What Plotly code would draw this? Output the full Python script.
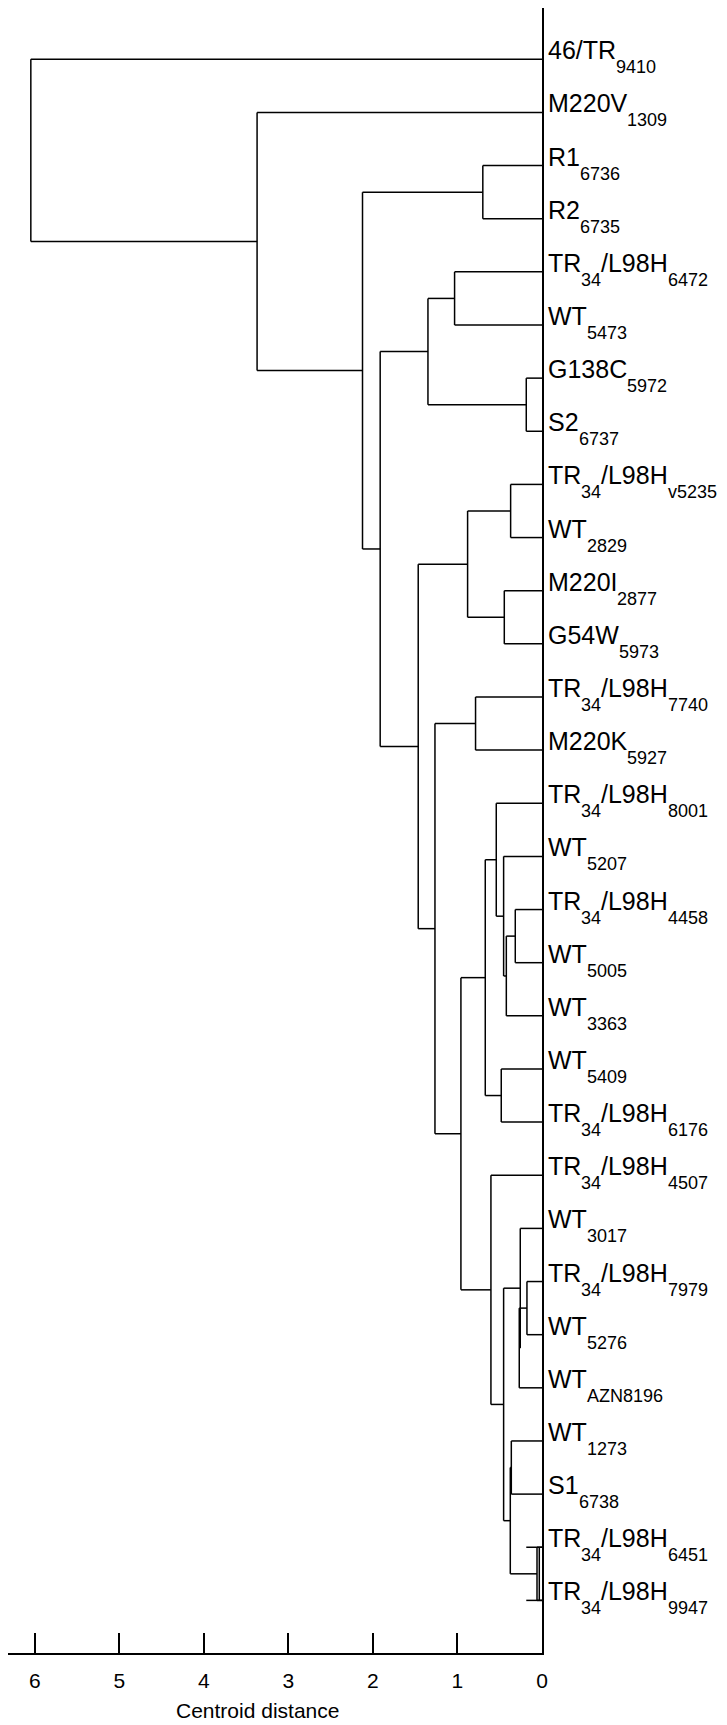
import re

import plotly.graph_objects as go

# leaves from top to bottom; "_{...}" marks a subscript
leaf_labels = [
    "46/TR_{9410}", "M220V_{1309}", "R1_{6736}", "R2_{6735}",
    "TR_{34}/L98H_{6472}", "WT_{5473}", "G138C_{5972}", "S2_{6737}",
    "TR_{34}/L98H_{v5235}", "WT_{2829}", "M220I_{2877}", "G54W_{5973}",
    "TR_{34}/L98H_{7740}", "M220K_{5927}", "TR_{34}/L98H_{8001}", "WT_{5207}",
    "TR_{34}/L98H_{4458}", "WT_{5005}", "WT_{3363}", "WT_{5409}",
    "TR_{34}/L98H_{6176}", "TR_{34}/L98H_{4507}", "WT_{3017}", "TR_{34}/L98H_{7979}",
    "WT_{5276}", "WT_{AZN8196}", "WT_{1273}", "S1_{6738}",
    "TR_{34}/L98H_{6451}", "TR_{34}/L98H_{9947}",
]

# merges: children are leaf indices or earlier node names
node_names = ["r12", "a", "b", "d", "f1", "f2", "f", "h", "s", "t", "u", "v", "w", "j",
              "o", "p", "m", "q", "r", "n", "l", "k", "i", "g", "e", "c", "b2", "a2", "root"]
node_left = [2, 4, 6, "a", 8, 10, "f1", 12, 16, "s", 15, 14, 19, "v",
             23, "o", 22, 26, 28, "q", "m", 21, "j", "h", "f", "d", "r12", 1, 0]
node_right = [3, 5, 7, "b", 9, 11, "f2", 13, 17, 18, "t", "u", 20, "w",
              24, 25, "p", 27, 29, "r", "n", "l", "k", "i", "g", "e", "c", "b2", "a2"]
node_height = [0.70, 1.034, 0.186, 1.349, 0.371, 0.446, 0.880, 0.786, 0.316, 0.422, 0.454,
               0.541, 0.482, 0.671, 0.178, 0.269, 0.257, 0.363, 0.059, 0.375, 0.454, 0.604,
               0.959, 1.266, 1.464, 1.914, 2.123, 3.37, 6.046]

# odd bits of the last pair: leaf lines run past the join, second join line
leaf_stub = {28: 0.186, 29: 0.186}
extra_join = {"r": 0.032}

x_ticks = [0, 1, 2, 3, 4, 5, 6]

FONT = "Liberation Sans, Arial, sans-serif"
MAIN_SIZE = 25
SUB_SIZE = 18

# Arial / Liberation Sans advance widths (em)
CHAR_W = {"/": 0.278, "T": 0.611, "R": 0.722, "W": 0.944, "M": 0.833, "V": 0.667,
          "G": 0.778, "C": 0.722, "S": 0.667, "L": 0.556, "H": 0.722, "K": 0.667,
          "I": 0.278, "A": 0.667, "Z": 0.611, "N": 0.722, "v": 0.5}


def text_width(s, size):
    return sum(CHAR_W.get(ch, 0.556) for ch in s) * size


def split_label(label):
    parts = re.split(r"_\{([^}]*)\}", label)
    return [(p, i % 2 == 1) for i, p in enumerate(parts) if p]


# node positions
ypos = {i: float(i) for i in range(len(leaf_labels))}
xpos = {i: 0.0 for i in range(len(leaf_labels))}
seg_x, seg_y = [], []
for name, lft, rgt, h in zip(node_names, node_left, node_right, node_height):
    for child in (lft, rgt):
        seg_x += [xpos[child], h, None]
        seg_y += [ypos[child], ypos[child], None]
        if child in leaf_stub:
            seg_x += [0.0, leaf_stub[child], None]
            seg_y += [ypos[child], ypos[child], None]
    seg_x += [h, h, None]
    seg_y += [ypos[lft], ypos[rgt], None]
    if name in extra_join:
        seg_x += [extra_join[name], extra_join[name], None]
        seg_y += [ypos[lft], ypos[rgt], None]
    xpos[name] = h
    ypos[name] = (ypos[lft] + ypos[rgt]) / 2

fig = go.Figure()
fig.add_trace(go.Scatter(x=seg_x, y=seg_y, mode="lines",
                         line=dict(color="black", width=1.5),
                         hoverinfo="skip", showlegend=False))

annotations = []
for idx, label in enumerate(leaf_labels):
    offset = 5.0
    for text, is_sub in split_label(label):
        size = SUB_SIZE if is_sub else MAIN_SIZE
        annotations.append(dict(
            x=0, y=idx, xref="x", yref="y", text=text, showarrow=False,
            xanchor="left", yanchor="middle", xshift=offset, borderpad=0,
            yshift=-8 if is_sub else 9,
            font=dict(family=FONT, size=size, color="black"),
        ))
        offset += text_width(text, size)

annotations.append(dict(
    x=3.37, y=0, xref="x", yref="paper", text="Centroid distance",
    showarrow=False, xanchor="center", yanchor="top", yshift=-44,
    font=dict(family=FONT, size=21, color="black"),
))

# the page adds an 8px body margin, so the figure is 8px smaller each way
fig.update_layout(
    width=719, height=1717,
    margin=dict(l=0, r=185, t=0, b=72),
    paper_bgcolor="white", plot_bgcolor="white",
    annotations=annotations,
    font=dict(family=FONT, color="black"),
)
fig.update_xaxes(
    range=[6.316, 0], tickvals=x_ticks, ticks="inside", ticklen=20, tickwidth=1.5,
    tickcolor="black", showline=True, linecolor="black", linewidth=1.5,
    showgrid=False, zeroline=False, tickfont=dict(family=FONT, size=21, color="black"),
    ticklabelstandoff=8, automargin=False,
)
fig.update_yaxes(
    range=[29.99, -0.965], side="right", showline=True, linecolor="black", linewidth=1.5,
    showticklabels=False, ticks="", showgrid=False, zeroline=False, automargin=False,
)

fig.write_html("out.html")
